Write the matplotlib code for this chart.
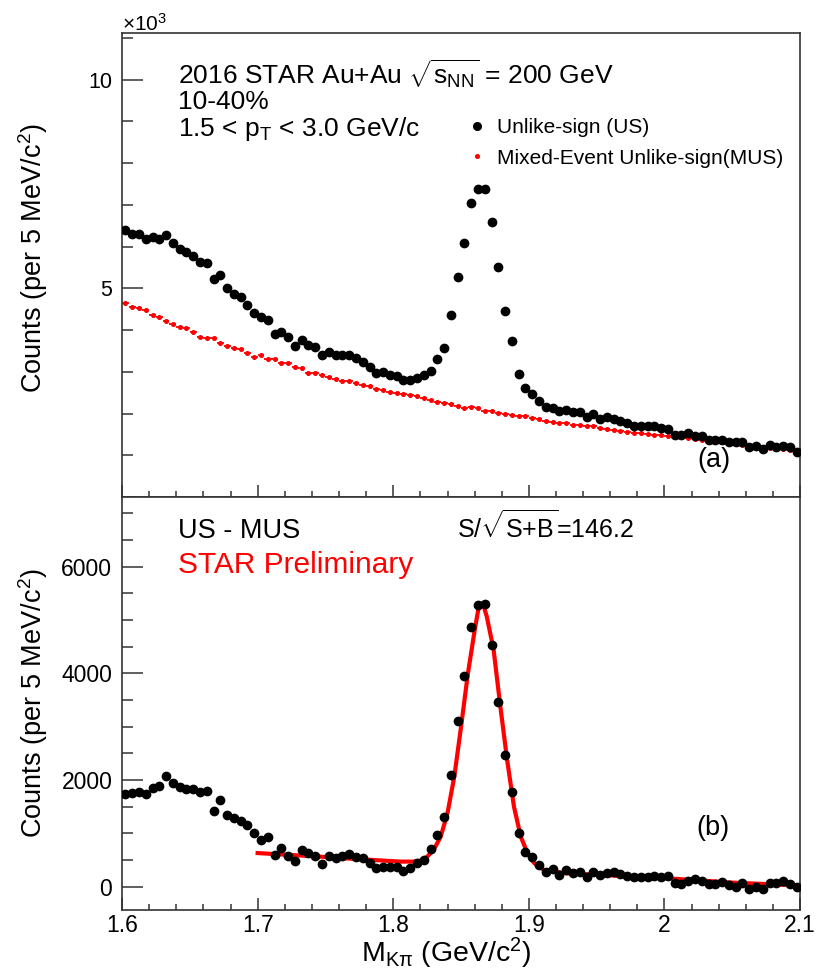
import matplotlib
matplotlib.use('Agg')
import matplotlib.pyplot as plt
import numpy as np
from matplotlib.ticker import FixedLocator, MultipleLocator
from matplotlib.lines import Line2D

plt.rcParams['font.family'] = 'Liberation Sans'
plt.rcParams['mathtext.fontset'] = 'custom'
plt.rcParams['mathtext.rm'] = 'Liberation Sans'
plt.rcParams['mathtext.it'] = 'Liberation Sans'
plt.rcParams['mathtext.bf'] = 'Liberation Sans:bold'

# K-pi invariant mass, 5 MeV bins from 1.6 to 2.1 GeV/c^2
mass = np.linspace(1.6025, 2.0975, 100)

# unlike-sign pairs (counts per bin)
us = [6400, 6310, 6310, 6180, 6230, 6180, 6290, 6080, 5950, 5870,
      5780, 5640, 5620, 5220, 5330, 5000, 4870, 4790, 4610, 4410,
      4310, 4240, 3910, 3960, 3830, 3620, 3770, 3640, 3600, 3400,
      3480, 3410, 3400, 3400, 3320, 3240, 3120, 2980, 3000, 2930,
      2900, 2800, 2810, 2850, 2920, 3030, 3300, 3570, 4360, 5280,
      6080, 7040, 7390, 7390, 6590, 5510, 4450, 3750, 2950, 2610,
      2470, 2310, 2150, 2130, 2050, 2090, 2030, 2030, 1910, 1990,
      1860, 1910, 1870, 1820, 1780, 1710, 1690, 1690, 1690, 1650,
      1620, 1490, 1490, 1530, 1470, 1450, 1370, 1370, 1370, 1330,
      1330, 1330, 1190, 1230, 1160, 1250, 1190, 1230, 1190, 1090]

# mixed-event unlike-sign background
mus = [4660, 4560, 4520, 4470, 4370, 4310, 4230, 4150, 4080, 4040,
       3960, 3840, 3810, 3800, 3690, 3620, 3570, 3540, 3460, 3360,
       3410, 3300, 3300, 3210, 3220, 3120, 3080, 2980, 2980, 2920,
       2870, 2840, 2780, 2780, 2730, 2680, 2650, 2600, 2570, 2520,
       2500, 2480, 2440, 2410, 2370, 2330, 2280, 2250, 2230, 2170,
       2130, 2150, 2130, 2070, 2070, 2020, 1990, 1970, 1940, 1930,
       1890, 1860, 1830, 1800, 1780, 1770, 1730, 1720, 1700, 1690,
       1650, 1640, 1610, 1590, 1560, 1540, 1530, 1510, 1490, 1480,
       1460, 1450, 1430, 1410, 1400, 1370, 1350, 1340, 1310, 1290,
       1270, 1250, 1230, 1210, 1190, 1180, 1160, 1140, 1130, 1100]

# US - MUS
sub = [1731, 1750, 1781, 1731, 1855, 1887, 2080, 1949, 1874, 1825,
       1831, 1769, 1799, 1424, 1625, 1344, 1281, 1237, 1150, 1000,
       875, 925, 594, 731, 581, 481, 687, 625, 575, 425,
       575, 532, 581, 607, 562, 532, 450, 350, 375, 375,
       375, 300, 350, 438, 500, 712, 975, 1300, 2099, 3100,
       3943, 4873, 5279, 5292, 4524, 3467, 2474, 1775, 1001, 650,
       551, 401, 275, 337, 214, 313, 251, 275, 176, 275,
       225, 262, 275, 238, 200, 176, 176, 176, 200, 187,
       200, 75, 50, 107, 139, 112, 50, 50, 88, 25,
       0, 63, -37, 0, -37, 63, 63, 112, 50, 0]

# fitted signal + residual background
fit_x = [1.700, 1.720, 1.745, 1.765, 1.785, 1.805, 1.815, 1.820, 1.825, 1.830,
         1.835, 1.840, 1.845, 1.850, 1.855, 1.860, 1.863, 1.866, 1.869, 1.874,
         1.879, 1.884, 1.889, 1.894, 1.899, 1.904, 1.911, 1.928, 1.953, 2.002,
         2.051, 2.100]
fit_y = [630, 600, 565, 530, 500, 470, 470, 490, 560, 700,
         940, 1380, 2060, 3000, 3990, 4800, 5240, 5320, 5060, 4440,
         3370, 2370, 1500, 940, 625, 440, 315, 250, 220, 157,
         75, 20]

frame_col = '#333333'

fig = plt.figure(figsize=(8.3, 9.77), dpi=100)
ax1 = fig.add_axes([0.147, 0.4913, 0.817, 0.4749])
ax2 = fig.add_axes([0.147, 0.0686, 0.817, 0.4227])

for ax in (ax1, ax2):
    ax.set_xlim(1.6, 2.1)
    ax.xaxis.set_major_locator(MultipleLocator(0.1))
    ax.xaxis.set_minor_locator(MultipleLocator(0.02))
    ax.tick_params(which='both', direction='in', color=frame_col, width=1.1,
                   top=False, right=False)
    ax.tick_params(axis='x', which='major', length=8.6)
    ax.tick_params(axis='x', which='minor', length=4.3)
    ax.tick_params(axis='y', which='major', length=15)
    ax.tick_params(axis='y', which='minor', length=7.8)
    for s in ax.spines.values():
        s.set_color(frame_col)
        s.set_linewidth(1.2)

# ---- top: US and mixed-event background ----
ax1.errorbar(mass, np.array(mus) / 1000, xerr=0.0025, fmt='o', ms=2.6,
             color='red', ecolor='red', elinewidth=1.3, capsize=0, zorder=2)
ax1.plot(mass, np.array(us) / 1000, 'o', ms=6, color='black', zorder=3)
ax1.set_ylim(0, 11.12)
ax1.yaxis.set_major_locator(FixedLocator([5, 10]))
ax1.yaxis.set_minor_locator(MultipleLocator(1))
ax1.tick_params(axis='x', labelbottom=False)
ax1.tick_params(axis='y', labelsize=15.5, pad=7)
ax1.set_ylabel('Counts (per 5 MeV/c$^{2}$)', fontsize=19.5)
ax1.yaxis.set_label_coords(-0.106, 0.515)

ax1.text(0.0, 1.004, r'$\times$10$^{3}$', transform=ax1.transAxes,
         fontsize=15, va='baseline', ha='left')
ax1.text(0.0826, 0.888, r'2016 STAR Au+Au $\sqrt{\mathrm{s}_{\mathrm{NN}}}$ = 200 GeV',
         transform=ax1.transAxes, fontsize=19, va='baseline')
ax1.text(0.0826, 0.837, '10-40%', transform=ax1.transAxes, fontsize=19,
         va='baseline')
ax1.text(0.0826, 0.779, r'1.5 < p$_{\mathrm{T}}$ < 3.0 GeV/c',
         transform=ax1.transAxes, fontsize=19, va='baseline')
ax1.text(0.848, 0.065, '(a)', transform=ax1.transAxes, fontsize=19.5,
         va='baseline')

handles = [Line2D([], [], ls='none', marker='o', ms=5.5, color='black'),
           Line2D([], [], ls='none', marker='o', ms=2.6, color='red')]
ax1.legend(handles, ['Unlike-sign (US)', 'Mixed-Event Unlike-sign(MUS)'],
           loc='center left', bbox_to_anchor=(0.508, 0.763), frameon=False,
           fontsize=15, handlelength=1.0, handletextpad=0.46,
           labelspacing=0.55, borderpad=0, borderaxespad=0)

# ---- bottom: background-subtracted signal ----
ax2.plot(fit_x, fit_y, '-', color='red', lw=3, zorder=2)
ax2.plot(mass, sub, 'o', ms=6, color='black', zorder=3)
ax2.set_ylim(-437, 7305)
ax2.yaxis.set_major_locator(MultipleLocator(2000))
ax2.yaxis.set_minor_locator(MultipleLocator(500))
ax2.xaxis.set_major_formatter(matplotlib.ticker.FuncFormatter(
    lambda v, p: ('%.1f' % v).rstrip('0').rstrip('.') if abs(v - 2) > 1e-6 else '2'))
ax2.tick_params(axis='both', labelsize=16.5)
ax2.tick_params(axis='x', pad=3)
ax2.tick_params(axis='y', pad=7)
ax2.set_ylabel('Counts (per 5 MeV/c$^{2}$)', fontsize=19.5)
ax2.yaxis.set_label_coords(-0.106, 0.5)
ax2.set_xlabel(r'M$_{\mathrm{K\pi}}$ (GeV/c$^{2}$)', fontsize=20.5)
ax2.xaxis.set_label_coords(0.478, -0.063)

ax2.text(0.0826, 0.900, 'US - MUS', transform=ax2.transAxes, fontsize=19.5,
         va='baseline')
ax2.text(0.0826, 0.815, 'STAR Preliminary', transform=ax2.transAxes,
         fontsize=21.5, color='red', va='baseline')
ax2.text(0.494, 0.900, r'S/$\sqrt{\mathrm{S{+}B}}$=146.2', transform=ax2.transAxes,
         fontsize=18, va='baseline')
ax2.text(0.847, 0.182, '(b)', transform=ax2.transAxes, fontsize=19.5,
         va='baseline')

fig.savefig('out.png', dpi=100)
